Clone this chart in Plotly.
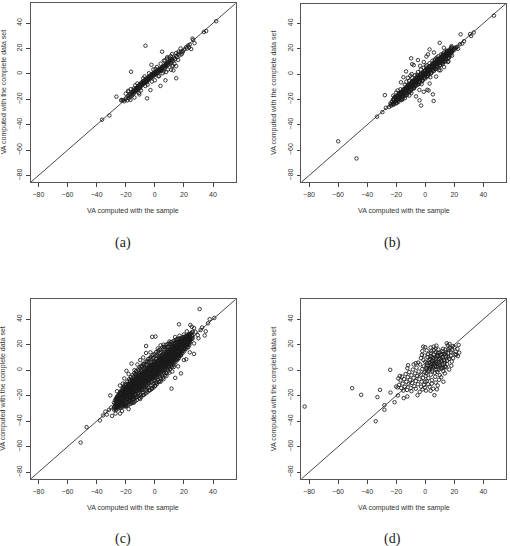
import plotly.graph_objects as go

# ---------------- data ----------------
a_points = [
    (42.2, 41.5), (35.3, 33.8), (33.7, 33.0), (25.9, 27.8), (26.4, 26.8), (27.3, 24.2),
    (23.6, 20.9), (25.0, 19.6), (22.2, 20.0), (17.7, 20.1), (19.3, 18.0), (16.3, 17.5),
    (14.7, 16.5), (11.9, 15.7), (-6.4, 22.2), (5.0, 17.5), (14.7, 6.1), (11.2, 3.3),
    (12.8, 2.8), (7.8, 1.5), (14.7, -3.4), (7.3, -5.0), (3.9, -9.4), (-16.3, 1.7),
    (-2.3, 7.2), (-26.4, -17.9), (-5.3, -19.2), (-36.2, -36.0), (-31.2, -32.7),
    (-21.8, -20.5), (-22.9, -21.0), (-16.7, -20.5), (-18.3, -13.3), (-14.4, -11.5),
    (-3.0, -12.7), (-10.6, -16.1), (0.0, -5.0), (6.2, 10.5), (8.5, 13.1), (10.8, 11.8),
    (12.4, 6.6),
    (-21.0, -21.5), (-20.2, -20.0), (-19.5, -18.8), (-19.0, -20.8), (-18.4, -17.5),
    (-17.8, -19.2), (-17.2, -16.0), (-16.8, -17.9), (-16.0, -15.2), (-15.5, -16.8),
    (-15.0, -13.9), (-14.6, -15.5), (-14.1, -12.6), (-13.7, -14.4), (-13.2, -11.8),
    (-12.8, -13.2), (-12.3, -10.9), (-12.0, -12.4), (-11.6, -9.6), (-11.2, -11.7),
    (-10.8, -8.8), (-10.4, -10.5), (-10.0, -7.9), (-9.7, -9.8), (-9.3, -7.0),
    (-9.0, -8.7), (-8.6, -6.3), (-8.2, -8.0), (-7.9, -5.8), (-7.5, -7.4), (-7.1, -5.1),
    (-6.8, -6.6), (-6.4, -4.3), (-6.0, -5.9), (-5.6, -3.6), (-5.2, -5.2), (-4.9, -2.9),
    (-4.5, -4.6), (-4.1, -2.2), (-3.7, -3.9), (-3.3, -1.5), (-3.0, -3.3), (-2.6, -0.8),
    (-2.2, -2.6), (-1.8, -0.2), (-1.5, -1.9), (-1.1, 0.6), (-0.7, -1.2), (-0.3, 1.1),
    (0.2, -0.5), (0.6, 1.8), (1.0, 0.3), (1.4, 2.4), (1.8, 0.9), (2.2, 3.1), (2.6, 1.6),
    (3.0, 3.8), (3.5, 2.3), (3.9, 4.4), (4.3, 2.9), (4.8, 5.0), (5.2, 3.6), (5.7, 5.8),
    (6.1, 4.3), (6.6, 6.6), (7.0, 5.2), (7.5, 7.4), (8.0, 6.1), (8.5, 8.3), (9.0, 7.0),
    (9.6, 9.4), (10.1, 8.2), (10.7, 10.5), (11.3, 9.1), (11.9, 11.6), (12.6, 10.4),
    (13.2, 12.8), (13.9, 11.6), (14.7, 14.2), (15.4, 13.1), (16.2, 15.8), (17.0, 14.6),
    (18.0, 17.4), (19.0, 16.9), (20.3, 19.2), (21.5, 21.0), (22.8, 22.3), (24.0, 23.1),
    (-18.0, -14.0), (-14.0, -18.5), (-12.0, -7.5), (-9.5, -13.0), (-8.0, -3.5),
    (-6.5, -9.5), (-4.0, 0.5), (-2.0, -6.0), (0.5, 4.0), (2.5, -2.0), (4.0, 8.0),
    (5.5, 0.5), (7.0, 10.5), (9.0, 3.5), (11.0, 14.0), (12.0, 6.0), (-20.0, -15.5),
    (-16.5, -12.0), (-11.0, -15.0), (-7.0, -2.0), (-1.0, 3.5), (3.0, -1.5), (8.5, 12.0),
    (13.5, 8.0), (16.0, 11.0), (-23.0, -20.5), (18.5, 15.5), (-13.5, -9.0), (-5.0, -8.5),
    (1.5, 5.5), (6.0, 2.0), (10.0, 13.0),
    (-17.5, -17.0), (-15.8, -15.9), (-14.3, -14.0), (-13.0, -12.9), (-11.9, -11.3),
    (-10.9, -10.8), (-9.9, -9.2), (-8.9, -8.9), (-7.9, -7.1), (-6.9, -7.0), (-5.9, -5.0),
    (-4.9, -5.1), (-3.9, -3.0), (-2.9, -3.1), (-1.9, -1.0), (-0.9, -1.2), (0.1, 0.8),
    (1.1, 0.9), (2.1, 2.0), (3.1, 2.9), (4.1, 4.0), (5.1, 4.9), (6.1, 6.0), (7.1, 6.8),
    (8.1, 7.9), (9.1, 8.8), (10.3, 10.0), (-12.5, -11.0), (-8.4, -7.5), (-4.4, -3.5),
    (-0.4, 0.0), (3.6, 3.2), (7.6, 6.5), (11.6, 10.6), (-14.8, -13.2), (-10.1, -11.2),
    (-5.4, -6.5), (-0.9, 0.2), (4.6, 3.4),
]

b_points = [
    (47.3, 46.0), (33.4, 32.8), (30.9, 31.5), (31.6, 30.0), (24.4, 31.3), (26.7, 25.9),
    (25.5, 24.0), (24.0, 23.5), (10.0, 24.6), (12.8, 20.7), (15.8, 18.1), (3.0, 19.4),
    (1.9, 15.5), (0.8, 13.8), (-9.7, 12.4), (-7.9, 7.0), (-9.0, 7.8), (-13.2, 2.1),
    (-9.3, 0.0), (-10.2, -1.3), (-3.5, 6.5), (-16.7, -6.5), (-27.8, -16.6), (-19.0, -12.9),
    (-6.3, -17.6), (-3.9, -20.7), (-2.8, -24.8), (5.3, -16.0), (5.8, -21.2), (1.4, -12.4),
    (2.3, -12.9), (-7.4, -10.3), (-59.9, -53.0), (-47.3, -66.5), (-33.2, -33.6),
    (-29.5, -30.0), (-27.1, -26.6), (-24.8, -25.9), (-23.5, -24.0), (-21.3, -22.0),
    (18.1, 22.0), (20.4, 20.7), (14.5, 16.5), (22.6, 20.0), (12.3, 9.1), (16.0, 10.0),
    (8.0, 13.0), (6.0, 17.0), (-5.0, 11.0), (-1.0, 9.5), (-12.0, -3.0), (-15.0, -2.5),
    (-8.5, -6.0), (10.5, 3.0), (13.0, 5.5), (7.5, -2.0), (3.0, -7.5), (-1.0, -14.0),
    (-4.0, -12.5), (-18.0, -16.0), (-14.0, -19.0), (-11.0, -17.0),
    (-24.0, -23.1), (-23.5, -25.0), (-23.0, -21.8), (-22.5, -23.6), (-22.0, -20.4),
    (-21.6, -22.7), (-21.1, -19.8), (-20.7, -21.9), (-20.2, -18.5), (-19.8, -20.6),
    (-19.3, -17.4), (-18.9, -19.7), (-18.4, -16.8), (-18.0, -18.5), (-17.6, -15.3),
    (-17.1, -17.8), (-16.7, -14.6), (-16.2, -16.9), (-15.8, -13.5), (-15.4, -15.7),
    (-14.9, -12.4), (-14.5, -14.8), (-14.0, -11.6), (-13.6, -13.9), (-13.2, -10.2),
    (-12.7, -12.8), (-12.3, -9.6), (-11.8, -11.9), (-11.4, -8.5), (-11.0, -10.7),
    (-10.5, -7.6), (-10.1, -9.8), (-9.6, -6.9), (-9.2, -8.8), (-8.8, -5.7), (-8.3, -7.9),
    (-7.9, -4.8), (-7.4, -7.0), (-7.0, -3.9), (-6.6, -6.1), (-6.1, -3.0), (-5.7, -5.2),
    (-5.2, -2.1), (-4.8, -4.3), (-4.4, -1.2), (-3.9, -3.4), (-3.5, -0.3), (-3.0, -2.5),
    (-2.6, 0.4), (-2.2, -1.6), (-1.7, 1.3), (-1.3, -0.7), (-0.8, 2.2), (-0.4, 0.2),
    (0.1, 3.1), (0.5, 1.0), (0.9, 3.8), (1.4, 1.9), (1.8, 4.7), (2.3, 2.8), (2.7, 5.6),
    (3.1, 3.7), (3.6, 6.4), (4.0, 4.5), (4.5, 7.3), (4.9, 5.4), (5.3, 8.0), (5.8, 6.3),
    (6.2, 8.9), (6.7, 7.2), (7.1, 9.6), (7.5, 8.0), (8.0, 10.4), (8.4, 8.9), (8.9, 11.1),
    (9.3, 9.8), (9.7, 11.8), (10.2, 10.6), (10.6, 12.5), (11.1, 11.4), (11.5, 13.2),
    (11.9, 12.1), (12.4, 13.9), (12.8, 12.9), (13.3, 14.6), (13.7, 13.6), (14.2, 15.3),
    (14.6, 14.3), (15.1, 16.0), (15.6, 15.2), (16.1, 16.8), (16.7, 16.0), (17.2, 17.5),
    (17.8, 17.0), (18.4, 18.6), (19.0, 18.1), (19.7, 19.6), (20.4, 19.4), (21.2, 20.8),
    (22.0, 21.5),
    (-20.0, -14.5), (-18.5, -22.0), (-17.0, -12.0), (-15.5, -19.5), (-14.0, -8.5),
    (-12.5, -16.5), (-11.0, -5.5), (-10.0, -13.5), (-9.0, -3.0), (-8.0, -11.5),
    (-7.0, -1.0), (-6.0, -9.0), (-5.0, 1.5), (-4.0, -7.5), (-3.0, 3.5), (-2.0, -5.5),
    (-1.0, 5.0), (0.0, -3.5), (1.0, 7.0), (2.0, -1.5), (3.0, 8.5), (4.0, 0.5), (5.0, 10.5),
    (6.0, 2.5), (7.0, 12.0), (8.0, 4.5), (9.0, 14.0), (10.0, 6.5), (11.0, 15.5), (12.0, 8.0),
    (13.0, 17.0), (14.0, 10.0), (15.0, 18.5), (16.0, 12.5), (17.5, 20.0), (18.5, 14.5),
    (-22.0, -17.0), (-16.0, -20.5), (-13.0, -6.0), (-9.5, -15.0), (-5.5, -0.5),
    (-2.5, -8.0), (0.5, 6.0), (3.5, -2.5), (6.5, 11.0), (9.5, 3.0), (12.5, 16.0),
    (15.5, 9.5),
    (-19.0, -19.0), (-16.0, -16.2), (-13.0, -12.6), (-10.5, -10.0), (-8.0, -8.2),
    (-6.0, -5.5), (-4.0, -4.1), (-2.0, -1.6), (0.0, 0.2), (2.0, 1.8), (4.0, 4.2),
    (6.0, 5.7), (8.0, 8.3), (10.0, 9.6), (12.0, 12.3), (14.0, 13.8), (16.0, 16.2),
    (-11.8, -10.4), (-7.2, -6.8), (-3.0, -2.8), (1.0, 1.3), (5.0, 4.8), (9.0, 9.2),
    (13.0, 12.8),
]
b_band_x = [
    -22.2, -21.7, -21.2, -20.7, -20.2, -19.7, -19.2, -18.7, -18.2, -17.7, -17.2, -16.7,
    -16.2, -15.7, -15.2, -14.7, -14.2, -13.7, -13.2, -12.7, -12.2, -11.7, -11.2, -10.7,
    -10.2, -9.7, -9.2, -8.7, -8.2, -7.7, -7.2, -6.7, -6.2, -5.7, -5.2, -4.7, -4.2, -3.7,
    -3.2, -2.7, -2.2, -1.7, -1.2, -0.7, -0.2, 0.3, 0.8, 1.3, 1.8, 2.3, 2.8, 3.3, 3.8, 4.3,
    4.8, 5.3, 5.8, 6.3, 6.8, 7.3, 7.8, 8.3, 8.8, 9.3, 9.8, 10.3, 10.8, 11.3, 11.8, 12.3,
    12.8, 13.3, 13.8, 14.3, 14.8, 15.3, 15.8, 16.3, 16.8, 17.3, 17.8, 18.3,
]
b_band_y = [
    (-20.1, -23.8), (-24.1, -20.5), (-18.2, -21.9), (-21.8, -18.1), (-19.6, -23.1),
    (-22.9, -17.9), (-17.1, -20.8), (-21.1, -17.5), (-15.2, -18.9), (-18.8, -15.1),
    (-16.6, -20.1), (-19.9, -14.9), (-14.1, -17.8), (-18.1, -14.5), (-12.2, -15.9),
    (-15.8, -12.1), (-13.6, -17.1), (-16.9, -11.9), (-11.1, -14.8), (-15.1, -11.5),
    (-9.2, -12.9), (-12.8, -9.1), (-10.6, -14.1), (-13.9, -8.9), (-8.1, -11.8),
    (-12.1, -8.5), (-6.2, -9.9), (-9.8, -6.1), (-7.6, -11.1), (-10.9, -5.9),
    (-5.1, -8.8), (-9.1, -5.5), (-3.2, -6.9), (-6.8, -3.1), (-4.6, -8.1), (-7.9, -2.9),
    (-2.1, -5.8), (-6.1, -2.5), (-0.2, -3.9), (-3.8, -0.1), (-1.6, -5.1), (-4.9, 0.1),
    (0.9, -2.8), (-3.1, 0.5), (2.8, -0.9), (-0.8, 2.9), (1.4, -2.1), (-1.9, 3.1),
    (3.9, 0.2), (-0.1, 3.5), (5.8, 2.1), (2.2, 5.9), (4.4, 0.9), (1.1, 6.1),
    (6.9, 3.2), (2.9, 6.5), (8.8, 5.1), (5.2, 8.9), (7.4, 3.9), (4.1, 9.1),
    (9.9, 6.2), (5.9, 9.5), (11.8, 8.1), (8.2, 11.9), (10.4, 6.9), (7.1, 12.1),
    (12.9, 9.2), (8.9, 12.5), (14.8, 11.1), (11.2, 14.9), (13.4, 9.9), (10.1, 15.1),
    (15.9, 12.2), (11.9, 15.5), (17.8, 14.1), (14.2, 17.9), (16.4, 12.9), (13.1, 18.1),
    (18.9, 15.2), (14.9, 18.5), (20.8, 17.1), (17.2, 20.9),
]

c_band_x = [
    -28.0, -27.4, -26.8, -26.2, -25.6, -25.0, -24.4, -23.8, -23.2, -22.6, -22.0, -21.4,
    -20.8, -20.2, -19.6, -19.0, -18.4, -17.8, -17.2, -16.6, -16.0, -15.4, -14.8, -14.2,
    -13.6, -13.0, -12.4, -11.8, -11.2, -10.6, -10.0, -9.4, -8.8, -8.2, -7.6, -7.0,
    -6.4, -5.8, -5.2, -4.6, -4.0, -3.4, -2.8, -2.2, -1.6, -1.0, -0.4, 0.2, 0.8, 1.4,
    2.0, 2.6, 3.2, 3.8, 4.4, 5.0, 5.6, 6.2, 6.8, 7.4, 8.0, 8.6, 9.2, 9.8, 10.4, 11.0,
    11.6, 12.2, 12.8, 13.4, 14.0, 14.6, 15.2, 15.8, 16.4, 17.0, 17.6, 18.2, 18.8, 19.4,
    20.0, 20.6, 21.2, 21.8, 22.4, 23.0, 23.6, 24.2, 24.8, 25.4, 26.0,
]
c_band_y = [
    (-25.5, -28.8, -31.0), (-23.9, -27.0, -30.2), (-26.1, -22.5, -29.4), (-24.8, -21.3, -28.0),
    (-27.2, -23.0, -20.4), (-22.1, -25.9, -28.7), (-19.8, -24.2, -27.1), (-21.5, -25.0, -18.6),
    (-17.9, -22.8, -26.3), (-20.2, -24.1, -16.8), (-18.7, -22.3, -25.4), (-15.9, -19.6, -23.5),
    (-17.4, -21.0, -24.6), (-14.6, -18.5, -22.2), (-16.3, -20.1, -13.5), (-18.0, -14.8, -22.7),
    (-12.9, -16.7, -20.5), (-15.2, -19.0, -11.8), (-13.6, -17.5, -21.2), (-10.7, -14.9, -18.6),
    (-12.4, -16.2, -19.8), (-9.8, -13.7, -17.1), (-11.5, -15.4, -8.6), (-13.0, -9.9, -16.8),
    (-7.8, -11.6, -15.0), (-10.2, -13.9, -6.9), (-8.5, -12.3, -16.1), (-5.7, -9.9, -13.4),
    (-7.6, -11.0, -14.9), (-4.8, -8.9, -12.5), (-6.6, -10.4, -3.9), (-8.2, -5.1, -12.8),
    (-2.9, -7.0, -10.6), (-5.4, -9.1, -1.8), (-3.7, -7.5, -11.3), (-0.9, -5.2, -8.8),
    (-2.6, -6.1, -9.9), (0.2, -3.8, -7.4), (-1.7, -5.3, 1.4), (-3.0, 0.4, -7.9),
    (2.1, -1.9, -5.6), (-0.6, -4.2, 3.3), (1.2, -2.5, -6.4), (4.0, -0.3, -3.9),
    (2.4, -1.4, -5.2), (0.5, 4.6, -3.1), (3.4, -0.8, -4.6), (5.5, 1.6, -2.4),
    (2.8, -1.1, 6.2), (4.3, 0.6, -3.3), (7.1, 2.9, -1.0), (5.2, 1.3, -2.7),
    (3.9, 7.8, 0.1), (6.3, 2.4, 9.0), (4.9, 1.0, 8.2), (9.6, 5.8, 2.2),
    (7.4, 3.5, 10.5), (5.9, 9.3, 2.6), (11.0, 7.2, 3.9), (8.6, 4.7, 12.1),
    (6.3, 10.2, 13.0), (11.6, 7.9, 4.8), (9.4, 13.3, 6.0), (12.7, 8.5, 5.4),
    (14.2, 10.3, 7.1), (11.8, 8.0, 15.4), (13.6, 9.7, 16.2), (10.9, 14.8, 7.9),
    (16.9, 12.6, 9.3), (14.1, 11.0, 17.8), (15.7, 12.2, 18.6), (13.5, 17.4, 10.8),
    (19.5, 15.3, 12.4), (16.8, 13.9, 20.1), (18.2, 14.6, 21.3), (15.9, 19.7, 22.0),
    (21.0, 17.3, 14.2), (19.1, 16.0, 22.8), (23.3, 20.2, 17.1), (21.6, 18.4, 24.1),
    (19.8, 23.0, 16.7), (22.4, 25.2, 19.3), (24.0, 20.8, 26.0), (22.1, 25.5, 19.6),
    (26.6, 23.4, 21.0), (24.6, 27.4, 22.0), (25.1, 22.8, 27.9), (28.3, 24.9, 23.1),
    (26.2, 29.0, 23.8), (27.0, 24.5, 29.6), (30.1, 26.7, 25.0),
]
c_band2_x = [
    -26.7, -26.1, -25.5, -24.9, -24.3, -23.7, -23.1, -22.5, -21.9, -21.3, -20.7, -20.1,
    -19.5, -18.9, -18.3, -17.7, -17.1, -16.5, -15.9, -15.3, -14.7, -14.1, -13.5, -12.9,
    -12.3, -11.7, -11.1, -10.5, -9.9, -9.3, -8.7, -8.1, -7.5, -6.9, -6.3, -5.7, -5.1,
    -4.5, -3.9, -3.3, -2.7, -2.1, -1.5, -0.9, -0.3, 0.3, 0.9, 1.5, 2.1, 2.7, 3.3, 3.9,
    4.5, 5.1, 5.7, 6.3, 6.9, 7.5, 8.1, 8.7, 9.3, 9.9, 10.5, 11.1, 11.7, 12.3, 12.9, 13.5,
    14.1, 14.7, 15.3, 15.9, 16.5, 17.1, 17.7, 18.3, 18.9, 19.5, 20.1, 20.7, 21.3, 21.9,
    22.5, 23.1, 23.7, 24.3,
]
c_band2_y = [
    (-23.2, -25.9, -28.9, -31.3), (-21.9, -24.6, -27.5, -30.0), (-22.8, -20.5, -26.1, -28.8),
    (-19.3, -22.9, -26.8, -30.0), (-21.0, -18.2, -24.7, -28.5), (-17.2, -22.5, -26.5, -29.4),
    (-19.0, -16.1, -24.0, -27.9), (-15.2, -19.9, -24.8, -28.7), (-16.9, -13.8, -21.6, -27.2),
    (-12.9, -18.1, -24.3, -28.3), (-14.7, -11.5, -21.8, -26.8), (-10.6, -16.1, -23.7, -27.9),
    (-12.7, -17.4, -24.7, -27.9), (-8.9, -14.2, -20.7, -25.5), (-10.7, -15.4, -22.7, -27.3),
    (-7.1, -12.2, -18.4, -24.9), (-8.8, -13.5, -21.0, -26.6), (-5.5, -10.4, -18.0, -23.3),
    (-6.9, -11.6, -20.7, -25.9), (-3.9, -8.7, -15.5, -22.9), (-5.1, -12.2, -20.2, -25.1),
    (-7.0, -2.3, -16.5, -22.2), (-3.4, -8.7, -19.5, -24.3), (-0.8, -5.5, -13.8, -21.5),
    (-1.8, -9.2, -16.4, -23.3), (-3.7, 0.6, -18.2, -13.7), (-0.2, -5.5, -14.3, -20.2),
    (2.1, -2.6, -11.0, -21.8), (1.3, -6.0, -15.2, -19.5), (-0.7, 3.5, -11.9, -20.9),
    (2.8, -2.5, -15.5, -12.7), (4.9, -3.6, -9.4, -18.1), (1.6, 4.3, -13.3, -19.3),
    (5.1, 0.0, -10.4, -15.1), (6.9, -4.1, -13.4, -18.3), (4.0, -0.7, -6.5, -16.0),
    (7.3, 2.4, -9.7, -17.3), (8.9, -0.9, -6.6, -13.4), (6.3, 2.5, -10.1, -15.4),
    (9.4, -1.6, -7.1, -15.7), (6.1, 10.4, -3.0, -12.1), (9.2, 3.2, -7.1, -14.7),
    (12.0, 6.5, -4.4, -12.1), (9.7, 3.2, -8.2, -13.6), (12.6, 6.5, -1.3, -10.1),
    (11.3, 2.9, -5.3, -12.2), (14.2, 8.6, -2.4, -10.0), (11.4, 6.7, -5.4, -10.8),
    (14.6, 3.2, -2.3, -7.4), (15.7, 11.1, 0.7, -9.1), (13.7, 7.9, -4.3, -8.7),
    (16.1, 9.9, 2.3, -6.3), (13.8, 7.8, -0.6, -7.2), (17.9, 12.2, 2.0, -3.9),
    (16.5, 7.6, -0.6, -5.7), (18.2, 12.2, 3.9, -2.4), (16.3, 10.7, 1.0, -4.2),
    (19.8, 14.5, 6.1, -1.8), (18.2, 10.9, 3.2, -2.5), (20.4, 15.0, 5.3, 0.7),
    (18.0, 13.7, 2.7, -0.7), (21.0, 15.3, 7.7, 2.0), (20.3, 12.8, 5.1, 0.8),
    (22.0, 17.7, 9.2, 3.7), (20.2, 15.6, 7.0, 2.5), (22.6, 18.1, 9.6, 5.4),
    (20.8, 14.5, 8.7, 4.1), (23.4, 18.5, 12.3, 7.1), (21.5, 17.1, 10.4, 6.0),
    (23.9, 18.9, 12.1, 8.7), (22.1, 17.5, 11.3, 7.8), (24.5, 20.8, 15.1, 10.4),
    (22.8, 18.5, 13.0, 9.5), (25.0, 20.8, 15.5, 12.0), (23.4, 19.1, 14.7, 11.3),
    (25.4, 21.6, 17.4, 13.7), (24.1, 20.0, 16.2, 13.1), (25.9, 22.3, 18.4, 15.3),
    (24.7, 20.8, 17.7, 14.8), (26.5, 23.2, 20.1, 16.9), (25.3, 22.2, 19.2, 16.6),
    (27.0, 23.7, 20.9, 18.5), (26.0, 23.0, 20.2, 18.1), (27.7, 24.7, 22.3, 20.1),
    (26.7, 23.9, 21.8, 19.8), (28.4, 25.6, 23.8, 21.7),
]
c_band3_x = [
    -22.0, -21.5, -21.0, -20.5, -20.0, -19.5, -19.0, -18.5, -18.0, -17.5, -17.0, -16.5,
    -16.0, -15.5, -15.0, -14.5, -14.0, -13.5, -13.0, -12.5, -12.0, -11.5, -11.0, -10.5,
    -10.0, -9.5, -9.0, -8.5, -8.0, -7.5, -7.0, -6.5, -6.0, -5.5, -5.0, -4.5, -4.0, -3.5,
    -3.0, -2.5, -2.0, -1.5, -1.0, -0.5, 0.0, 0.5, 1.0, 1.5, 2.0, 2.5, 3.0, 3.5, 4.0, 4.5,
    5.0, 5.5, 6.0, 6.5, 7.0, 7.5, 8.0, 8.5, 9.0, 9.5, 10.0, 10.5, 11.0, 11.5, 12.0, 12.5,
    13.0, 13.5, 14.0, 14.5, 15.0, 15.5, 16.0, 16.5, 17.0, 17.5, 18.0,
]
c_band3_y = [
    (-16.6, -21.1, -26.3), (-18.8, -23.5, -13.9), (-27.1, -17.2, -21.6), (-14.0, -23.9, -18.8),
    (-21.3, -15.4, -27.0), (-19.3, -24.7, -16.4), (-13.6, -18.1, -23.3), (-15.8, -20.5, -10.9),
    (-24.1, -14.2, -18.6), (-11.0, -20.9, -15.8), (-18.3, -12.4, -24.0), (-16.3, -21.7, -13.4),
    (-10.6, -15.1, -20.3), (-12.8, -17.5, -7.9), (-21.1, -11.2, -15.6), (-8.0, -17.9, -12.8),
    (-15.3, -9.4, -21.0), (-13.3, -18.7, -10.4), (-7.6, -12.1, -17.3), (-9.8, -14.5, -4.9),
    (-18.1, -8.2, -12.6), (-5.0, -14.9, -9.8), (-12.3, -6.4, -18.0), (-10.3, -15.7, -7.4),
    (-4.6, -9.1, -14.3), (-6.8, -11.5, -1.9), (-15.1, -5.2, -9.6), (-2.0, -11.9, -6.8),
    (-9.3, -3.4, -15.0), (-7.3, -12.7, -4.4), (-1.6, -6.1, -11.3), (-3.8, -8.5, 1.1),
    (-12.1, -2.2, -6.6), (1.0, -8.9, -3.8), (-6.3, -0.4, -12.0), (-4.3, -9.7, -1.4),
    (1.4, -3.1, -8.3), (-0.8, -5.5, 4.1), (-9.1, 0.8, -3.6), (4.0, -5.9, -0.8),
    (-3.3, 2.6, -9.0), (-1.3, -6.7, 1.6), (4.4, -0.1, -5.3), (2.2, -2.5, 7.1),
    (-6.1, 3.8, -0.6), (7.0, -2.9, 2.2), (-0.3, 5.6, -6.0), (1.7, -3.7, 4.6),
    (7.4, 2.9, -2.3), (5.2, 0.5, 10.1), (-3.1, 6.8, 2.4), (10.0, 0.1, 5.2),
    (2.7, 8.6, -3.0), (4.7, -0.7, 7.6), (10.4, 5.9, 0.7), (8.2, 3.5, 13.1),
    (-0.1, 9.8, 5.4), (13.0, 3.1, 8.2), (5.7, 11.6, 0.0), (7.7, 2.3, 10.6),
    (13.4, 8.9, 3.7), (11.2, 6.5, 16.1), (2.9, 12.8, 8.4), (16.0, 6.1, 11.2),
    (8.7, 14.6, 3.0), (10.7, 5.3, 13.6), (16.4, 11.9, 6.7), (14.2, 9.5, 19.1),
    (5.9, 15.8, 11.4), (19.0, 9.1, 14.2), (11.7, 17.6, 6.0), (13.7, 8.3, 16.6),
    (19.4, 14.9, 9.7), (17.2, 12.5, 22.1), (8.9, 18.8, 14.4), (22.0, 12.1, 17.2),
    (14.7, 20.6, 9.0), (16.7, 11.3, 19.6), (22.4, 17.9, 12.7), (19.7, 15.0, 24.6),
    (11.9, 21.8, 17.4),
]
c_points = [
    (-18.0, -17.5), (-15.0, -14.2), (-12.0, -11.6), (-9.0, -8.3), (-6.0, -5.8), (-3.0, -2.4),
    (0.0, 0.3), (3.0, 3.4), (6.0, 6.2), (9.0, 8.7), (12.0, 12.4), (15.0, 14.8),
    (-16.5, -15.0), (-13.5, -13.9), (-10.5, -9.6), (-7.5, -6.9), (-4.5, -4.0), (-1.5, -1.1),
    (1.5, 2.0), (4.5, 4.7), (7.5, 7.6), (10.5, 11.0), (13.5, 13.1), (16.5, 16.4),
    (-30.6, -19.8), (-16.0, 5.2), (-19.5, -0.5), (-6.0, 19.0), (-1.8, 26.1), (0.5, 26.4),
    (11.5, -14.4), (-29.9, -29.2), (-29.4, -35.8), (-35.6, -35.5), (-37.7, -39.4),
    (-46.9, -44.6), (-51.0, -56.7), (-23.9, -34.0), (-22.5, -32.0), (-34.0, -32.5),
    (-33.0, -34.8), (-31.5, -31.0), (30.8, 48.0), (37.7, 40.0), (40.9, 41.0), (36.6, 36.8),
    (16.6, 36.0), (24.4, 35.5), (25.5, 34.0), (34.3, 27.2), (31.5, 31.6), (26.9, 12.8),
    (21.6, 8.6), (18.9, 15.4), (28.0, 30.0), (29.5, 27.5), (32.5, 33.5), (27.0, 33.0),
    (30.0, 25.0), (35.0, 30.5), (22.0, 30.5), (20.0, 28.0), (14.0, 26.0), (10.0, 22.5),
    (6.0, 20.0), (2.0, 17.0), (-3.0, 14.0), (-8.0, 10.0), (-12.0, 4.5), (-14.0, 0.0),
    (-18.0, -3.0), (-21.0, -6.5), (-24.0, -12.0), (-26.0, -16.5), (-20.0, -28.5),
    (-16.0, -25.0), (-12.0, -21.0), (-8.0, -19.5), (-4.0, -16.0), (0.0, -12.5), (4.0, -9.0),
    (8.0, -4.5), (12.0, -1.0), (16.0, 3.0), (20.0, 8.0), (24.0, 14.0), (18.0, -2.5),
    (14.0, -6.0), (-10.0, -22.5), (-14.5, -25.5), (-27.0, -34.0), (-18.0, -30.5),
    (-6.0, 13.5), (-10.0, 8.0), (4.0, 19.5), (9.0, 18.5), (1.0, -9.5), (6.0, -7.0),
    (-2.0, -14.0), (-15.0, -22.5), (-22.0, -10.5), (-25.0, -20.0), (-17.0, -8.0),
    (15.0, 24.0), (17.0, 27.0), (23.0, 18.0), (27.0, 21.0), (13.0, 2.5), (10.0, -2.0),
    (-5.0, 6.5), (-9.0, 2.5), (-13.0, -3.0),
]

d_points = [
    (-83.0, -28.5), (-50.3, -14.1), (-44.1, -19.3), (-31.1, -15.4), (-32.9, -21.1),
    (-34.1, -40.0), (-24.1, 0.3), (-23.9, -17.5), (-28.1, -27.4), (-28.1, -31.0),
    (-21.1, -25.1), (-20.0, -12.8), (-19.0, -13.5), (-18.8, -19.8), (-14.8, -21.9),
    (-12.3, -20.6), (-5.3, -19.6), (6.3, -19.6), (3.7, -16.2), (8.6, -12.0), (7.2, -9.7),
    (14.8, 21.1), (16.7, 20.6), (15.5, 19.5), (23.0, 19.8), (23.4, 13.8), (21.3, 12.0),
    (18.3, 6.8), (14.2, 2.3), (12.6, 1.8), (7.7, 19.3), (-1.4, 18.5), (0.0, 18.0),
    (3.7, 17.8), (-11.8, 3.9), (-12.3, 1.6),
    (0.5, 2.0), (1.2, 5.5), (1.8, -1.0), (2.4, 8.0), (2.9, 3.2), (3.5, 11.0), (3.9, -3.5),
    (4.4, 6.3), (4.8, 0.8), (5.3, 9.5), (5.7, 4.1), (6.2, 12.4), (6.6, -2.0), (7.1, 7.5),
    (7.5, 2.6), (8.0, 10.8), (8.4, 5.2), (8.9, 13.6), (9.3, 0.4), (9.8, 8.7), (10.2, 3.9),
    (10.7, 11.9), (11.1, 6.8), (11.6, 14.8), (12.0, 9.9), (12.5, -0.8), (13.0, 12.6),
    (13.4, 7.0), (13.9, 16.3), (14.5, 10.2), (15.1, 4.8), (15.8, 13.4), (16.4, 8.9),
    (17.0, 17.3), (17.6, 11.5), (18.4, 15.6), (19.2, 9.4), (20.1, 18.0), (21.0, 14.5),
    (22.2, 16.7),
    (0.3, -4.5), (1.0, 0.9), (1.6, 10.3), (2.2, -6.2), (2.7, 6.0), (3.2, 1.4), (3.7, 13.5),
    (4.1, 4.8), (4.6, -7.8), (5.1, 7.4), (5.5, 2.3), (6.0, 15.8), (6.4, 5.5), (6.9, -5.2),
    (7.3, 9.0), (7.8, 0.5), (8.2, 12.0), (8.7, 3.0), (9.1, 16.2), (9.6, 6.1), (10.0, -3.9),
    (10.5, 9.4), (10.9, 1.2), (11.4, 12.8), (11.8, 4.6), (12.3, 16.8), (12.8, 8.0),
    (13.6, 2.8), (14.1, 11.1), (15.0, 7.5),
    (0.0, 6.5), (0.8, -2.5), (1.5, 3.8), (2.0, 12.5), (2.6, -0.2), (3.3, 8.9), (3.9, 2.6),
    (4.5, 10.4), (5.0, -0.6), (5.6, 5.9), (6.1, 9.8), (6.7, 3.3), (7.2, 13.8), (7.7, 6.6),
    (8.3, -1.3), (8.8, 11.3), (9.4, 4.4), (10.1, 14.0), (10.8, 7.8), (11.5, 2.0),
    (12.1, 10.6), (13.2, 5.1), (14.3, 13.9), (16.0, 10.4), (17.8, 14.1),
    (-0.5, -1.5), (-1.0, 3.0), (-1.5, -6.0), (-2.0, 1.0), (-2.5, -9.0), (-3.0, -3.5),
    (-3.5, 4.5), (-4.0, -7.0), (-4.5, -1.0), (-5.0, -11.0), (-5.5, -4.5), (-6.0, 2.0),
    (-6.5, -8.5), (-7.0, -2.5), (-7.5, -12.5), (-8.0, -6.0), (-8.5, 0.5), (-9.0, -10.0),
    (-9.5, -4.0), (-10.0, -14.0), (-10.5, -7.5), (-11.0, -1.5), (-11.5, -11.0),
    (-12.0, -5.5), (-12.5, -15.5), (-13.0, -9.0), (-13.5, -3.0), (-14.0, -13.0),
    (-14.5, -7.0), (-15.0, -16.0), (-15.5, -10.5), (-16.0, -5.0), (-16.5, -14.0),
    (-17.0, -8.0), (-18.0, -11.5), (-17.5, -4.5), (-18.5, -6.5),
    (-0.8, -11.5), (-1.8, -15.0), (-2.8, -13.0), (-3.8, -17.0), (-6.5, -14.5),
    (-9.5, -16.5), (0.0, -9.0), (-0.3, -13.5), (1.0, -8.5), (2.0, -11.0), (3.0, -13.0),
    (4.5, -10.5), (5.5, -14.5), (0.5, -16.0), (-1.2, 8.0), (-2.3, 12.0), (-3.0, 9.5),
    (-4.8, 6.0), (-6.5, 5.5), (-8.0, 4.5), (-2.0, 15.0), (1.0, 15.5), (4.2, 15.0),
    (5.8, 18.5), (7.0, 17.0), (-0.5, 11.5),
    (16.0, 16.5), (19.0, 19.0), (20.5, 12.5), (22.5, 11.0), (18.0, 3.5), (16.5, 0.5),
    (13.5, -2.5), (11.0, -5.5), (12.5, -9.0), (9.5, -7.5), (8.0, -15.0),
]

tick_vals = [-80, -60, -40, -20, 0, 20, 40]
axis_range = [-85.3, 55.6]
x_title = "VA computed with the sample"
y_title = "VA computed with the complete data set"
panel_labels = ["(a)", "(b)", "(c)", "(d)"]

# expand the band lists into point lists
b_all = list(b_points)
for xv, ys in zip(b_band_x, b_band_y):
    for yv in ys:
        b_all.append((xv, yv))
c_all = list(c_points)
for bx, by in ((c_band_x, c_band_y), (c_band2_x, c_band2_y), (c_band3_x, c_band3_y)):
    for xv, ys in zip(bx, by):
        for yv in ys:
            c_all.append((xv, yv))

panels = [a_points, b_all, c_all, d_points]

# ---------------- layout geometry (pixels) ----------------
W, H = 510, 546
boxes = [  # left, right, top, bottom
    (30.7, 235.7, 3.3, 182.3),
    (301.3, 506.0, 3.5, 182.3),
    (30.7, 235.7, 299.3, 479.0),
    (301.3, 506.0, 299.3, 479.0),
]
label_pos = [(122.5, 243.0), (392.0, 243.0), (122.5, 539.0), (392.0, 539.0)]

fig = go.Figure()
annotations = []
tick_font = dict(family="Liberation Sans, Arial, sans-serif", size=7, color="#333333")

for i, (pts, (l, r, t, b)) in enumerate(zip(panels, boxes)):
    n = i + 1
    xs = [p[0] for p in pts]
    ys = [p[1] for p in pts]
    xa = "x" if n == 1 else f"x{n}"
    ya = "y" if n == 1 else f"y{n}"
    fig.add_trace(go.Scatter(
        x=axis_range, y=axis_range, mode="lines",
        line=dict(color="#333333", width=0.9),
        xaxis=xa, yaxis=ya, hoverinfo="skip", showlegend=False,
    ))
    fig.add_trace(go.Scatter(
        x=xs, y=ys, mode="markers",
        marker=dict(symbol="circle-open", size=3.5, color="#1a1a1a",
                    line=dict(width=0.85, color="#1a1a1a")),
        xaxis=xa, yaxis=ya, showlegend=False, cliponaxis=True,
    ))
    common = dict(
        range=axis_range, tickvals=tick_vals, ticks="outside", ticklen=3.5,
        tickwidth=0.8, tickcolor="#444444", showline=True, mirror=True,
        linecolor="#555555", linewidth=1, showgrid=False, zeroline=False,
        tickfont=tick_font, fixedrange=True,
    )
    fig.update_layout({
        ("xaxis" if n == 1 else f"xaxis{n}"): dict(
            domain=[l / W, r / W], anchor=ya, ticklabelstandoff=2, **common),
        ("yaxis" if n == 1 else f"yaxis{n}"): dict(
            domain=[1 - b / H, 1 - t / H], anchor=xa, tickangle=-90,
            ticklabelstandoff=1, **common),
    })
    cx = (l + r) / 2
    cy = (t + b) / 2
    annotations.append(dict(
        text=x_title, x=cx / W, y=1 - (b + 28.7) / H, xref="paper", yref="paper",
        showarrow=False, xanchor="center", yanchor="middle",
        font=dict(family="Liberation Sans, Arial, sans-serif", size=7, color="#333333"),
    ))
    annotations.append(dict(
        text=y_title, x=(l - 27.2) / W, y=1 - cy / H, xref="paper", yref="paper",
        showarrow=False, xanchor="center", yanchor="middle", textangle=-90,
        font=dict(family="Liberation Sans, Arial, sans-serif", size=7, color="#333333"),
    ))
    lx, ly = label_pos[i]
    annotations.append(dict(
        text=panel_labels[i], x=lx / W, y=1 - ly / H, xref="paper", yref="paper",
        showarrow=False, xanchor="center", yanchor="middle",
        font=dict(family="Liberation Serif, DejaVu Serif, serif", size=14, color="#222222"),
    ))

fig.update_layout(
    width=W, height=H, margin=dict(l=0, r=0, t=0, b=0),
    paper_bgcolor="white", plot_bgcolor="white",
    annotations=annotations, showlegend=False,
)

fig.write_html("out.html", config={"displayModeBar": False})
